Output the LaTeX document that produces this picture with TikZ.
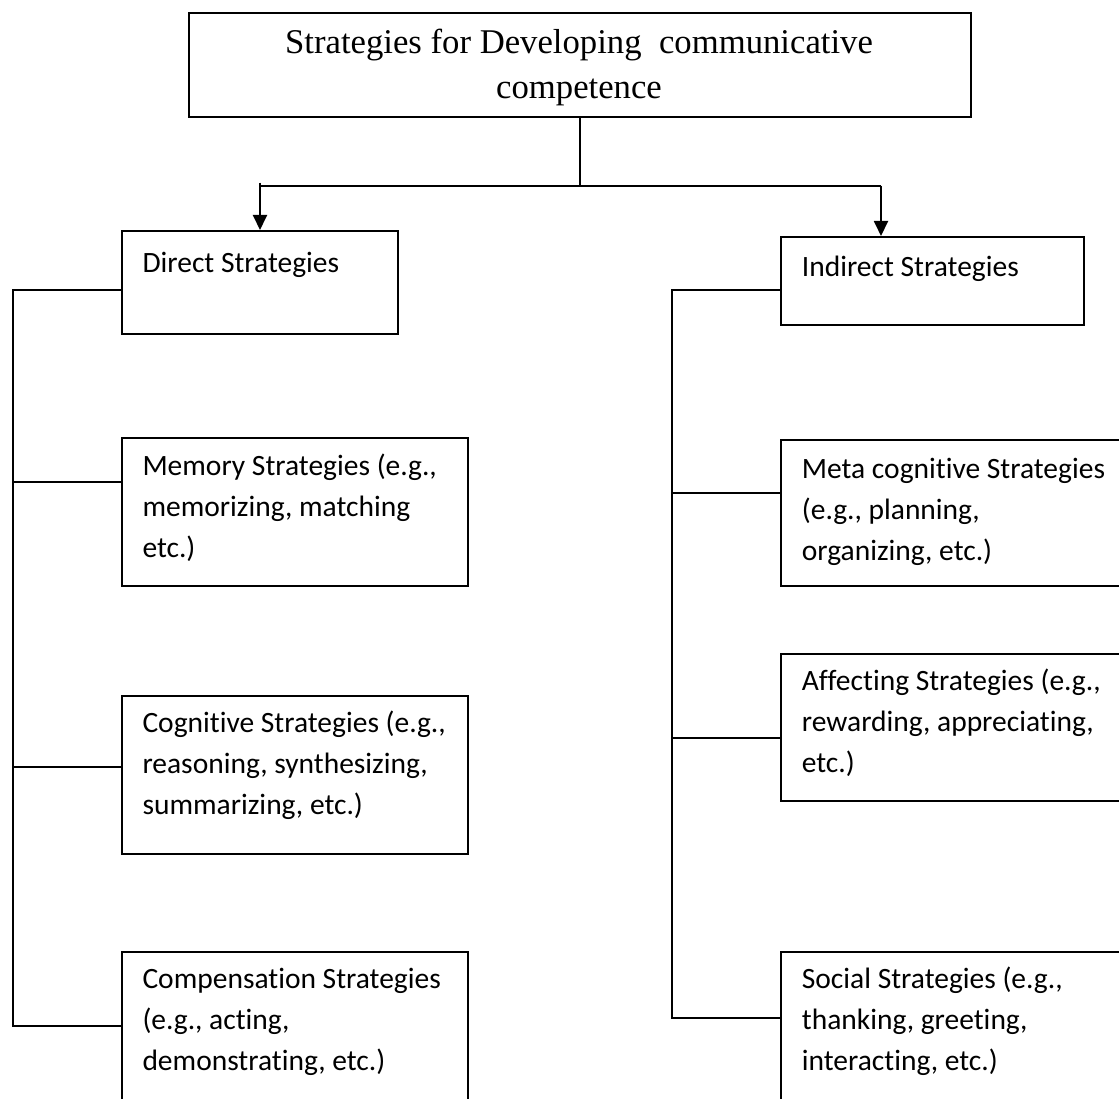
\documentclass[tikz,border=0pt]{standalone}
\usepackage{fontspec}
\setmainfont{Liberation Serif}
\newfontfamily\boxfont[Ligatures=NoCommon]{Carlito}
\usetikzlibrary{arrows.meta}
\begin{document}
\begin{tikzpicture}[x=1pt,y=-1pt,
  box/.style={draw, line width=1.9pt, rectangle, anchor=north west, inner sep=0pt},
  conn/.style={line width=1.9pt},
  arr/.style={conn, -{Triangle[length=15pt,width=14pt]}},
  txt/.style={anchor=base west, inner sep=0pt, font=\boxfont\fontsize{29.5}{41}\selectfont},
  ttl/.style={anchor=base, inner sep=0pt, font=\fontsize{34.7}{45}\selectfont},
]
\useasboundingbox (0,0) rectangle (1119,1099);
\clip (0,0) rectangle (1119,1099);
\fill[white] (0,0) rectangle (1119,1099);

% top box
\node[box, minimum width=782.3pt, minimum height=104pt] (top) at (187.7,11.7) {};
\node[ttl] (t1) at (579,54) {Strategies for Developing\ \ communicative};
\node[ttl] (t2) at (579,99) {competence};

% level 2 boxes
\node[box, minimum width=276.6pt, minimum height=102.7pt] (direct) at (120.7,230) {};
\node[txt] (directtxt) at (142.3,272.3) {Direct Strategies};
\node[box, minimum width=302.7pt, minimum height=88.3pt] (indirect) at (780,236) {};
\node[txt] (indirecttxt) at (801.7,276.7) {Indirect Strategies};

% left column
\node[box, minimum width=346.3pt, minimum height=147.7pt] (memory) at (120.7,437.3) {};
\node[txt] (memorytxt) at (142.3,475) {\vtop{\hbox{Memory Strategies (e.g.,}\hbox{memorizing, matching}\hbox{etc.)}}};
\node[box, minimum width=346.3pt, minimum height=158pt] (cognitive) at (120.7,695) {};
\node[txt] (cognitivetxt) at (142.3,732.7) {\vtop{\hbox{Cognitive Strategies (e.g.,}\hbox{reasoning, synthesizing,}\hbox{summarizing, etc.)}}};
\node[box, minimum width=346.3pt, minimum height=170pt] (comp) at (120.7,950.7) {};
\node[txt] (comptxt) at (142.3,988.4) {\vtop{\hbox{Compensation Strategies}\hbox{(e.g., acting,}\hbox{demonstrating, etc.)}}};

% right column
\node[box, minimum width=360pt, minimum height=145.7pt] (meta) at (780,439.3) {};
\node[txt] (metatxt) at (801.7,478.3) {\vtop{\hbox{Meta cognitive Strategies}\hbox{(e.g., planning,}\hbox{organizing, etc.)}}};
\node[box, minimum width=360pt, minimum height=146.7pt] (affect) at (780,653.3) {};
\node[txt] (affecttxt) at (801.7,690.5) {\vtop{\hbox{Affecting Strategies (e.g.,}\hbox{rewarding, appreciating,}\hbox{etc.)}}};
\node[box, minimum width=360pt, minimum height=170pt] (social) at (780,950.7) {};
\node[txt] (socialtxt) at (801.7,988.4) {\vtop{\hbox{Social Strategies (e.g.,}\hbox{thanking, greeting,}\hbox{interacting, etc.)}}};

% connectors from top
\coordinate (jL) at (260,185.7);
\coordinate (jR) at (881,185.7);
\draw[conn] (top.south) -- (top.south |- jL);
\draw[conn] (jL) -- (jR);
\draw[arr] (260,182.7) -- (jL |- direct.north);
\draw[arr] (jR) -- (jR |- indirect.north);

% left trunk
\coordinate (lt) at (12.7,290);
\coordinate (lb1) at (12.7,482.3);
\coordinate (lb2) at (12.7,767.3);
\coordinate (lb3) at (12.7,1025.7);
\draw[conn] (lt -| direct.west) -- (lt) -- (lb3) -- (lb3 -| comp.west);
\draw[conn] (lb1) -- (lb1 -| memory.west);
\draw[conn] (lb2) -- (lb2 -| cognitive.west);

% right trunk
\coordinate (rt) at (671.7,290);
\coordinate (rb1) at (671.7,493.3);
\coordinate (rb2) at (671.7,738.3);
\coordinate (rb3) at (671.7,1017.7);
\draw[conn] (rt -| indirect.west) -- (rt) -- (rb3) -- (rb3 -| social.west);
\draw[conn] (rb1) -- (rb1 -| meta.west);
\draw[conn] (rb2) -- (rb2 -| affect.west);
\end{tikzpicture}
\end{document}
